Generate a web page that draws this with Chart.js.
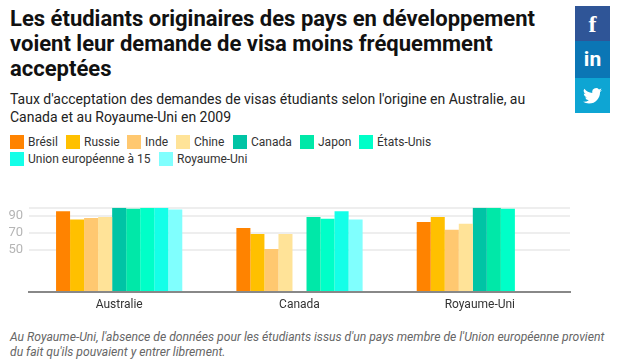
<!DOCTYPE html>
<html lang="fr"><head><meta charset="utf-8">
<script src="https://cdn.jsdelivr.net/npm/chart.js@4"></script>
<style>
html,body{margin:0;padding:0;background:#fff;width:625px;height:363px;overflow:hidden;font-family:Roboto,sans-serif}
#t{position:absolute;left:10px;top:6px;width:550px;font-weight:700;font-size:22px;line-height:25px;color:#111}
#s{position:absolute;left:10px;top:90px;width:560px;font-size:14px;line-height:18px;color:#222}
#n{position:absolute;left:10px;top:330px;width:610px;font-size:12.15px;line-height:15px;font-style:italic;color:#666}
#lg{position:absolute;left:10px;top:135px;width:470px;font-size:12px;color:#333}
.li{position:absolute;height:14px;line-height:15px;white-space:nowrap}
.li i{position:absolute;left:0;top:0;width:14px;height:14px}
.li span{position:absolute;left:18px;top:0}
#w{position:absolute;left:0;top:194px;width:625px;height:125px}
.sb{position:absolute;left:575px;width:35px;color:#fff;text-align:center;font-weight:700}
</style></head><body>
<div id="t">Les étudiants originaires des pays en développement voient leur demande de visa moins fréquemment acceptées</div>
<div id="s">Taux d'acceptation des demandes de visas étudiants selon l'origine en Australie, au Canada et au Royaume-Uni en 2009</div>
<div id="lg"></div>
<div id="w"><canvas id="c" width="625" height="125"></canvas></div>
<div id="n">Au Royaume-Uni, l'absence de données pour les étudiants issus d'un pays membre de l'Union européenne provient<br>du fait qu'ils pouvaient y entrer librement.</div>
<div class="sb" style="top:6px;height:35px;background:#2f5597;font-size:24px;line-height:36px;font-family:'Liberation Serif',Roboto">f</div>
<div class="sb" style="top:41px;height:37px;background:#0b76b5;font-size:21px;line-height:36px">in</div>
<div class="sb" style="top:78px;height:35px;background:#0ea5d3"><svg width="19" height="16" viewBox="0 0 24 20" style="margin-top:10px"><path fill="#fff" d="M24 2.4a9.8 9.8 0 0 1-2.8.8A4.9 4.9 0 0 0 23.300.5a9.800 9.800 0 0 1-3.100 1.200 4.900 4.900 0 0 0-8.400 4.500A14 14 0 0 1 1.700.9a4.900 4.900 0 0 0 1.500 6.600 4.900 4.900 0 0 1-2.200-.6c0 2.400 1.700 4.400 3.900 4.900a4.900 4.900 0 0 1-2.200.1 4.900 4.900 0 0 0 4.600 3.400A9.900 9.900 0 0 1 0 17.300 14 14 0 0 0 7.500 19.500c9.100 0 14.300-7.700 14-14.600A10 10 0 0 0 24 2.400z"/></svg></div>
<script>
const categories = ["Australie", "Canada", "Royaume-Uni"];
const seriesNames = ["Brésil", "Russie", "Inde", "Chine", "Canada", "Japon", "États-Unis", "Union européenne à 15", "Royaume-Uni"];
const seriesColors = ["#ff8300", "#ffc000", "#ffc870", "#ffe398", "#00c4a5", "#00e8a8", "#00ffc8", "#14ffe8", "#80fffe"];
const bresil = [96, 76, 83];
const russie = [86, 69, 89];
const inde = [88, 51, 74];
const chine = [89, 69, 81];
const canada = [100, null, 100];
const japon = [99, 89, 100];
const etatsUnis = [100, 87, 99];
const ue15 = [100, 96, null];
const royaumeUni = [98, 86, null];
const seriesValues = [bresil, russie, inde, chine, canada, japon, etatsUnis, ue15, royaumeUni];
const yTicks = [0, 50, 70, 90, 100];
const yLabels = ["50", "70", "90"];

const legendPos = [[0,0],[56,0],[117,0],[166,0],[223,0],[290,0],[349,0],[0,17],[149,17]];
const lg = document.getElementById('lg');
seriesNames.forEach((name,i)=>{
  const d=document.createElement('div');d.className='li';
  d.style.left=legendPos[i][0]+'px';d.style.top=legendPos[i][1]+'px';
  d.innerHTML='<i style="background:'+seriesColors[i]+'"></i><span>'+name+'</span>';
  lg.appendChild(d);
});

new Chart(document.getElementById('c'),{
  type:'bar',
  data:{labels:categories,datasets:seriesNames.map((n,i)=>({label:n,data:seriesValues[i],backgroundColor:seriesColors[i],borderWidth:0,barPercentage:1,categoryPercentage:0.7}))},
  options:{
    responsive:false,animation:false,
    layout:{padding:{top:10,right:55,left:0,bottom:0}},
    plugins:{legend:{display:false},tooltip:{enabled:false}},
    scales:{
      x:{
        afterFit:a=>{a.height=27;},
        grid:{display:false},
        border:{display:true,color:'#888',width:2,z:5},
        ticks:{color:'#333',font:{family:'Roboto',size:12},padding:-2,maxRotation:0}
      },
      y:{
        min:0,max:100,
        afterBuildTicks:a=>{a.ticks=yTicks.map(v=>({value:v}));},
        afterFit:a=>{a.width=29;},
        grid:{color:c=>c.tick.value===0?'rgba(0,0,0,0)':'#eeeeee',lineWidth:2,drawTicks:false},
        border:{display:false},
        ticks:{color:'#b5b5b5',font:{family:'Roboto',size:13},padding:6,
          callback:v=>yLabels.includes(String(v))?String(v):''}
      }
    }
  }
});
</script>
</body></html>
